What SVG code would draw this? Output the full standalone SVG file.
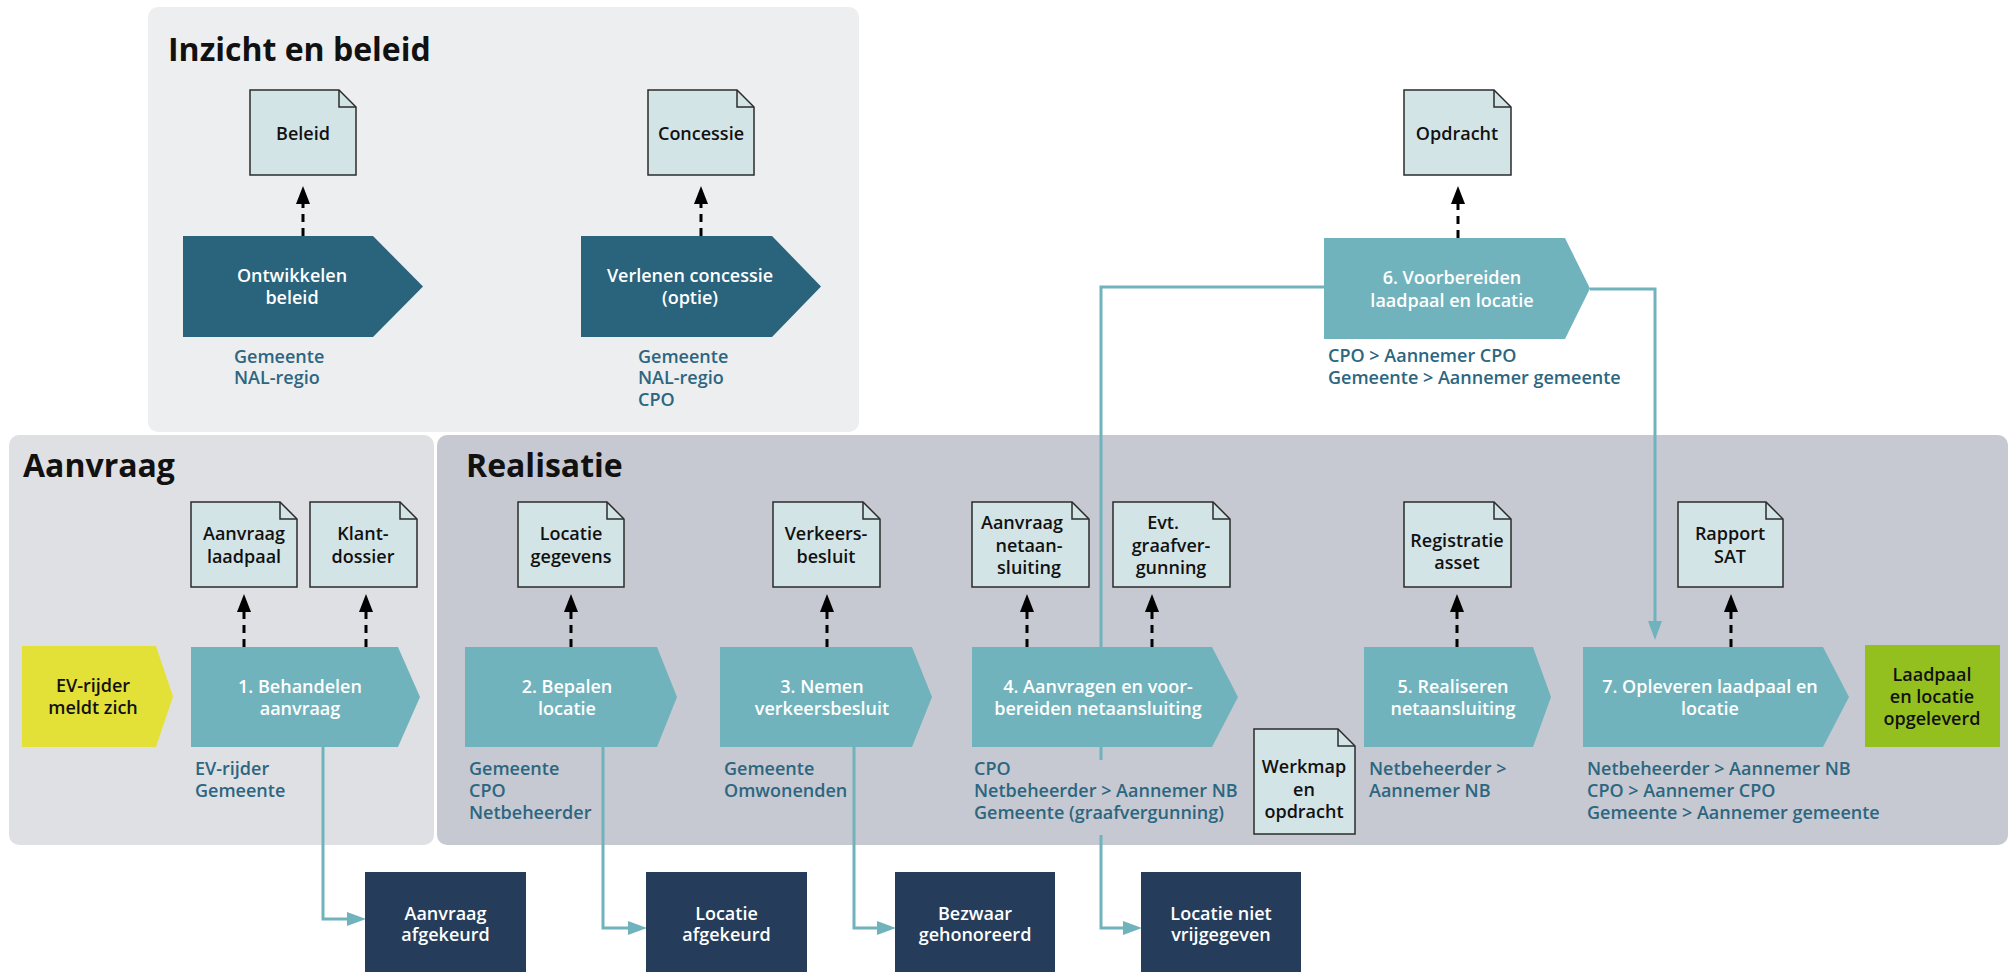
<svg xmlns="http://www.w3.org/2000/svg" width="2011" height="972" viewBox="0 0 2011 972">
<style>
text{font-family:"Open Sans","Noto Sans","Liberation Sans",sans-serif;font-size:18px}
.title{font-size:32px;font-weight:700;fill:#111}
.doc{fill:#d3e4e6;stroke:#2b2b2b;stroke-width:1.5}
.fold{fill:none;stroke:#2b2b2b;stroke-width:1.5}
.dt{fill:#111;font-weight:600;text-anchor:middle}
.wt{fill:#fff;font-weight:600;text-anchor:middle}
.bt{fill:#111;font-weight:600;text-anchor:middle}
.role{fill:#2c6680;font-weight:600}
.dash{stroke:#000;stroke-width:3;stroke-dasharray:8 6;fill:none;marker-end:url(#ah)}
.con{stroke:#71b3bc;stroke-width:3;fill:none;marker-end:url(#th)}
.dark{fill:#29637c}
.teal{fill:#71b3bc}
.navy{fill:#253d5b}
</style>
<defs>
<marker id="ah" viewBox="0 0 18 14" refX="8" refY="7" markerWidth="18" markerHeight="14" markerUnits="userSpaceOnUse" orient="auto"><path d="M0,0 L18,7 L0,14 Z" fill="#000"/></marker>
<marker id="th" viewBox="0 0 19 14" refX="9" refY="7" markerWidth="19" markerHeight="14" markerUnits="userSpaceOnUse" orient="auto"><path d="M0,0 L19,7 L0,14 Z" fill="#71b3bc"/></marker>
</defs>
<rect width="2011" height="972" fill="#fff"/>
<g id="panels">
<g id="panel-inzicht"><rect x="148" y="7" width="711" height="425" rx="10" fill="#edeef0"/><text class="title" x="168" y="61">Inzicht en beleid</text></g>
<g id="panel-aanvraag"><rect x="9" y="435" width="425" height="410" rx="10" fill="#dfe0e4"/><text class="title" x="23" y="477">Aanvraag</text></g>
<g id="panel-realisatie"><rect x="437" y="435" width="1571" height="410" rx="10" fill="#c6c9d1"/><text class="title" x="466" y="477">Realisatie</text></g>
</g>
<g id="connectors">
<path class="dash" d="M303,236 V196"/>
<path class="dash" d="M701,236 V196"/>
<path class="dash" d="M1458,238 V196"/>
<path class="dash" d="M244,647 V604"/>
<path class="dash" d="M366,647 V604"/>
<path class="dash" d="M571,647 V604"/>
<path class="dash" d="M827,647 V604"/>
<path class="dash" d="M1027,647 V604"/>
<path class="dash" d="M1152,647 V604"/>
<path class="dash" d="M1457,647 V604"/>
<path class="dash" d="M1731,647 V604"/>
<path class="con" d="M323,747 V919 H356"/>
<path class="con" d="M603,747 V928 H637"/>
<path class="con" d="M854,747 V928 H886"/>
<path class="con" d="M1324,287 H1101 V760 M1101,835 V928 H1132"/>
<path class="con" d="M1590,289 H1655 V630"/>
</g>
<g id="doc-beleid"><path class="doc" d="M250,90 H339 L356,107 V175 H250 Z"/><path class="fold" d="M339,90 V107 H356"/><text class="dt" x="303" y="140">Beleid</text></g>
<g id="doc-concessie"><path class="doc" d="M648,90 H737 L754,107 V175 H648 Z"/><path class="fold" d="M737,90 V107 H754"/><text class="dt" x="701" y="140">Concessie</text></g>
<g id="doc-opdracht"><path class="doc" d="M1404,90 H1494 L1511,107 V175 H1404 Z"/><path class="fold" d="M1494,90 V107 H1511"/><text class="dt" x="1457" y="140">Opdracht</text></g>
<g id="doc-aanvraag-laadpaal"><path class="doc" d="M191,502 H280 L297,519 V587 H191 Z"/><path class="fold" d="M280,502 V519 H297"/><text class="dt" x="244" y="540">Aanvraag</text><text class="dt" x="244" y="563">laadpaal</text></g>
<g id="doc-klantdossier"><path class="doc" d="M310,502 H400 L417,519 V587 H310 Z"/><path class="fold" d="M400,502 V519 H417"/><text class="dt" x="363" y="540">Klant-</text><text class="dt" x="363" y="563">dossier</text></g>
<g id="doc-locatiegegevens"><path class="doc" d="M518,502 H607 L624,519 V587 H518 Z"/><path class="fold" d="M607,502 V519 H624"/><text class="dt" x="571" y="540">Locatie</text><text class="dt" x="571" y="563">gegevens</text></g>
<g id="doc-verkeersbesluit"><path class="doc" d="M773,502 H863 L880,519 V587 H773 Z"/><path class="fold" d="M863,502 V519 H880"/><text class="dt" x="826" y="540">Verkeers-</text><text class="dt" x="826" y="563">besluit</text></g>
<g id="doc-aanvraag-netaansluiting"><path class="doc" d="M972,502 H1072 L1089,519 V587 H972 Z"/><path class="fold" d="M1072,502 V519 H1089"/><text class="dt" x="1022" y="529">Aanvraag</text><text class="dt" x="1029" y="552">netaan-</text><text class="dt" x="1029" y="574">sluiting</text></g>
<g id="doc-graafvergunning"><path class="doc" d="M1113,502 H1213 L1230,519 V587 H1113 Z"/><path class="fold" d="M1213,502 V519 H1230"/><text class="dt" x="1163" y="529">Evt.</text><text class="dt" x="1171" y="552">graafver-</text><text class="dt" x="1171" y="574">gunning</text></g>
<g id="doc-registratie"><path class="doc" d="M1404,502 H1494 L1511,519 V587 H1404 Z"/><path class="fold" d="M1494,502 V519 H1511"/><text class="dt" x="1457" y="547">Registratie</text><text class="dt" x="1457" y="569">asset</text></g>
<g id="doc-rapport"><path class="doc" d="M1678,502 H1766 L1783,519 V587 H1678 Z"/><path class="fold" d="M1766,502 V519 H1783"/><text class="dt" x="1730" y="540">Rapport</text><text class="dt" x="1730" y="563">SAT</text></g>
<g id="doc-werkmap"><path class="doc" d="M1254,729 H1338 L1355,746 V834 H1254 Z"/><path class="fold" d="M1338,729 V746 H1355"/><text class="dt" x="1304" y="773">Werkmap</text><text class="dt" x="1304" y="796">en</text><text class="dt" x="1304" y="818">opdracht</text></g>
<g id="step-ontwikkelen"><path class="dark" d="M183,236 H373 L423,286.5 L373,337 H183 Z"/><text class="wt" x="292" y="282">Ontwikkelen</text><text class="wt" x="292" y="304">beleid</text><text class="role" x="234" y="363">Gemeente</text><text class="role" x="234" y="384">NAL-regio</text></g>
<g id="step-concessie"><path class="dark" d="M581,236 H772 L821,286.5 L772,337 H581 Z"/><text class="wt" x="690" y="282">Verlenen concessie</text><text class="wt" x="690" y="304">(optie)</text><text class="role" x="638" y="363">Gemeente</text><text class="role" x="638" y="384">NAL-regio</text><text class="role" x="638" y="406">CPO</text></g>
<g id="step-6"><path class="teal" d="M1324,238 H1565 L1590,288.5 L1565,339 H1324 Z"/><text class="wt" x="1452" y="284">6. Voorbereiden</text><text class="wt" x="1452" y="307">laadpaal en locatie</text><text class="role" x="1328" y="362">CPO &gt; Aannemer CPO</text><text class="role" x="1328" y="384">Gemeente &gt; Aannemer gemeente</text></g>
<g id="start-evrijder"><path fill="#e3e037" d="M22,646 H156 L173,696.5 L156,747 H22 Z"/><text class="bt" x="93" y="692">EV-rijder</text><text class="bt" x="93" y="714">meldt zich</text></g>
<g id="step-1"><path class="teal" d="M191,647 H398 L420,697 L398,747 H191 Z"/><text class="wt" x="300" y="693">1. Behandelen</text><text class="wt" x="300" y="715">aanvraag</text><text class="role" x="195" y="775">EV-rijder</text><text class="role" x="195" y="797">Gemeente</text></g>
<g id="step-2"><path class="teal" d="M465,647 H657 L677,697 L657,747 H465 Z"/><text class="wt" x="567" y="693">2. Bepalen</text><text class="wt" x="567" y="715">locatie</text><text class="role" x="469" y="775">Gemeente</text><text class="role" x="469" y="797">CPO</text><text class="role" x="469" y="819">Netbeheerder</text></g>
<g id="step-3"><path class="teal" d="M720,647 H912 L932,697 L912,747 H720 Z"/><text class="wt" x="822" y="693">3. Nemen</text><text class="wt" x="822" y="715">verkeersbesluit</text><text class="role" x="724" y="775">Gemeente</text><text class="role" x="724" y="797">Omwonenden</text></g>
<g id="step-4"><path class="teal" d="M972,647 H1212 L1238,697 L1212,747 H972 Z"/><text class="wt" x="1098" y="693">4. Aanvragen en voor-</text><text class="wt" x="1098" y="715">bereiden netaansluiting</text><text class="role" x="974" y="775">CPO</text><text class="role" x="974" y="797">Netbeheerder &gt; Aannemer NB</text><text class="role" x="974" y="819">Gemeente (graafvergunning)</text></g>
<g id="step-5"><path class="teal" d="M1364,647 H1533 L1551,697 L1533,747 H1364 Z"/><text class="wt" x="1453" y="693">5. Realiseren</text><text class="wt" x="1453" y="715">netaansluiting</text><text class="role" x="1369" y="775">Netbeheerder &gt;</text><text class="role" x="1369" y="797">Aannemer NB</text></g>
<g id="step-7"><path class="teal" d="M1583,647 H1823 L1849,697 L1823,747 H1583 Z"/><text class="wt" x="1710" y="693">7. Opleveren laadpaal en</text><text class="wt" x="1710" y="715">locatie</text><text class="role" x="1587" y="775">Netbeheerder &gt; Aannemer NB</text><text class="role" x="1587" y="797">CPO &gt; Aannemer CPO</text><text class="role" x="1587" y="819">Gemeente &gt; Aannemer gemeente</text></g>
<g id="end-opgeleverd"><rect x="1865" y="645" width="135" height="102" fill="#94c01f"/><text class="bt" x="1932" y="681">Laadpaal</text><text class="bt" x="1932" y="703">en locatie</text><text class="bt" x="1932" y="725">opgeleverd</text></g>
<g id="end-aanvraag-afgekeurd"><rect class="navy" x="365" y="872" width="161" height="100"/><text class="wt" x="445.5" y="920">Aanvraag</text><text class="wt" x="445.5" y="941">afgekeurd</text></g>
<g id="end-locatie-afgekeurd"><rect class="navy" x="646" y="872" width="161" height="100"/><text class="wt" x="726.5" y="920">Locatie</text><text class="wt" x="726.5" y="941">afgekeurd</text></g>
<g id="end-bezwaar"><rect class="navy" x="895" y="872" width="160" height="100"/><text class="wt" x="975" y="920">Bezwaar</text><text class="wt" x="975" y="941">gehonoreerd</text></g>
<g id="end-locatie-niet"><rect class="navy" x="1141" y="872" width="160" height="100"/><text class="wt" x="1221" y="920">Locatie niet</text><text class="wt" x="1221" y="941">vrijgegeven</text></g>
</svg>
